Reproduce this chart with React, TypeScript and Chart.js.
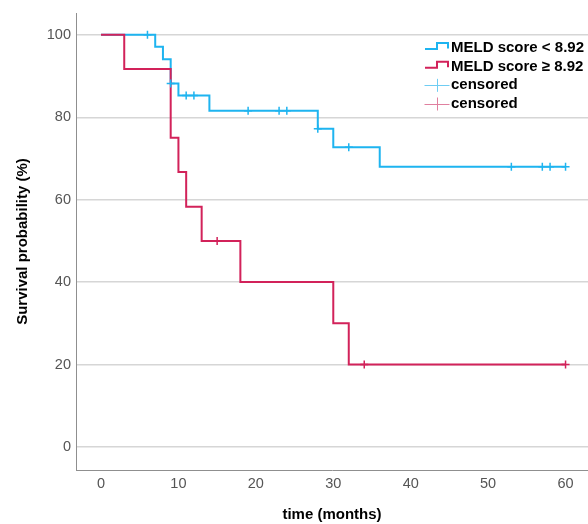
import React, { useEffect, useRef } from "react";
import { Chart, registerables } from "chart.js";

Chart.register(...registerables);

// ---- data ----
const xTicks = [0, 10, 20, 30, 40, 50, 60];
const yTicks = [0, 20, 40, 60, 80, 100];

const lowTimes = [0, 7, 8, 9, 10, 14, 28, 30, 36, 60];
const lowSurvival = [100, 97.1, 94.1, 88.2, 85.3, 81.6, 77.2, 72.7, 68.0, 68.0];
const lowCensorTimes = [6, 9, 11, 12, 19, 23, 24, 28, 32, 53, 57, 58, 60];
const lowCensorSurvival = [100, 88.2, 85.3, 85.3, 81.6, 81.6, 81.6, 77.2, 72.7, 68.0, 68.0, 68.0, 68.0];

const highTimes = [0, 3, 9, 10, 11, 13, 18, 30, 32, 60];
const highSurvival = [100, 91.7, 75.0, 66.7, 58.3, 50.0, 40.0, 30.0, 20.0, 20.0];
const highCensorTimes = [15, 34, 60];
const highCensorSurvival = [50.0, 20.0, 20.0];

const legendLabels = ["MELD score < 8.92", "MELD score \u2265 8.92", "censored", "censored"];
const xTitle = "time (months)";
const yTitle = "Survival probability (%)";

// ---- styles ----
const BLUE = "#1eb4f0";
const RED = "#d2225a";
const BLUE_LIGHT = "#6fcdf3";
const RED_LIGHT = "#e0809f";
const FONT = "'Liberation Sans', Arial, Helvetica, sans-serif";

const toPoints = (xs: number[], ys: number[]) => xs.map((x, i) => ({ x, y: ys[i] }));

const legendPlugin = {
  id: "kmLegend",
  afterDraw(chart: any) {
    const { ctx, chartArea } = chart;
    const x0 = chartArea.right - 163;
    const rowY = (i: number) => chartArea.top + 35 + i * 18.67;
    ctx.save();
    const drawStep = (y: number, color: string) => {
      ctx.strokeStyle = color;
      ctx.lineWidth = 2;
      ctx.beginPath();
      ctx.moveTo(x0, y + 1);
      ctx.lineTo(x0 + 12, y + 1);
      ctx.lineTo(x0 + 12, y - 5);
      ctx.lineTo(x0 + 23, y - 5);
      ctx.lineTo(x0 + 23, y + 0.5);
      ctx.stroke();
    };
    const drawCross = (y: number, color: string) => {
      ctx.strokeStyle = color;
      ctx.lineWidth = 1;
      ctx.beginPath();
      ctx.moveTo(x0 - 0.5, Math.round(y) + 0.5);
      ctx.lineTo(x0 + 24.5, Math.round(y) + 0.5);
      ctx.moveTo(x0 + 12.5, y - 6.5);
      ctx.lineTo(x0 + 12.5, y + 6.5);
      ctx.stroke();
    };
    drawStep(rowY(0), BLUE);
    drawStep(rowY(1), RED);
    drawCross(rowY(2), BLUE_LIGHT);
    drawCross(rowY(3), RED_LIGHT);
    ctx.fillStyle = "#000";
    ctx.font = `bold 15px ${FONT}`;
    ctx.textBaseline = "middle";
    ctx.textAlign = "left";
    legendLabels.forEach((t, i) => ctx.fillText(t, x0 + 26, rowY(i)));
    ctx.restore();
  },
};

export default function App() {
  const ref = useRef<HTMLCanvasElement>(null);
  useEffect(() => {
    document.body.style.margin = "0";
    const chart = new Chart(ref.current as HTMLCanvasElement, {
      type: "line",
      data: {
        datasets: [
          {
            label: "censored low",
            data: toPoints(lowCensorTimes, lowCensorSurvival),
            showLine: false,
            pointStyle: "cross",
            pointRadius: 4,
            pointHoverRadius: 4,
            pointBorderWidth: 1.5,
            pointBorderColor: BLUE,
            borderColor: BLUE,
            order: 0,
          },
          {
            label: "censored high",
            data: toPoints(highCensorTimes, highCensorSurvival),
            showLine: false,
            pointStyle: "cross",
            pointRadius: 4,
            pointHoverRadius: 4,
            pointBorderWidth: 1.5,
            pointBorderColor: RED,
            borderColor: RED,
            order: 1,
          },
          {
            label: legendLabels[1],
            data: toPoints(highTimes, highSurvival),
            stepped: true,
            borderColor: RED,
            borderWidth: 2,
            pointRadius: 0,
            fill: false,
            order: 2,
          },
          {
            label: legendLabels[0],
            data: toPoints(lowTimes, lowSurvival),
            stepped: true,
            borderColor: BLUE,
            borderWidth: 2,
            pointRadius: 0,
            fill: false,
            order: 3,
          },
        ],
      },
      options: {
        animation: false,
        responsive: false,
        maintainAspectRatio: false,
        layout: { autoPadding: false, padding: { top: 13, left: 0, right: 0, bottom: 0 } },
        plugins: { legend: { display: false }, tooltip: { enabled: false } },
        scales: {
          x: {
            type: "linear",
            min: -3.23,
            max: 62.9,
            afterBuildTicks: (s: any) => {
              s.ticks = xTicks.map((v) => ({ value: v }));
            },
            afterFit: (s: any) => {
              s.height = 54;
              s.paddingLeft = 0;
              s.paddingRight = 0;
            },
            grid: { display: false, drawTicks: false },
            border: { display: true, color: "#8f8f8f", width: 1 },
            ticks: {
              padding: 5,
              color: "#555555",
              font: { family: FONT, size: 14.5 },
              autoSkip: false,
              maxRotation: 0,
            },
            title: {
              display: true,
              text: xTitle,
              color: "#000",
              font: { family: FONT, size: 15, weight: "bold" },
              padding: { top: 0, bottom: 0 },
            },
          },
          y: {
            type: "linear",
            min: -5.6,
            max: 105.3,
            afterBuildTicks: (s: any) => {
              s.ticks = yTicks.map((v) => ({ value: v }));
            },
            afterFit: (s: any) => {
              s.width = 76;
              s.paddingTop = 0;
              s.paddingBottom = 0;
            },
            grid: { display: true, drawTicks: false, color: "#d6d6d6", lineWidth: 1.5 },
            border: { display: true, color: "#8f8f8f", width: 1 },
            ticks: {
              padding: 5,
              color: "#555555",
              font: { family: FONT, size: 14.5 },
            },
            title: {
              display: true,
              text: yTitle,
              color: "#000",
              font: { family: FONT, size: 15, weight: "bold" },
              padding: { top: 14, bottom: 0 },
            },
          },
        },
      },
      plugins: [legendPlugin],
    } as any);
    return () => chart.destroy();
  }, []);
  return (
    <div style={{ width: 588, height: 524, position: "relative" }}>
      <canvas ref={ref} width={588} height={524} style={{ display: "block", width: 588, height: 524 }} />
    </div>
  );
}
